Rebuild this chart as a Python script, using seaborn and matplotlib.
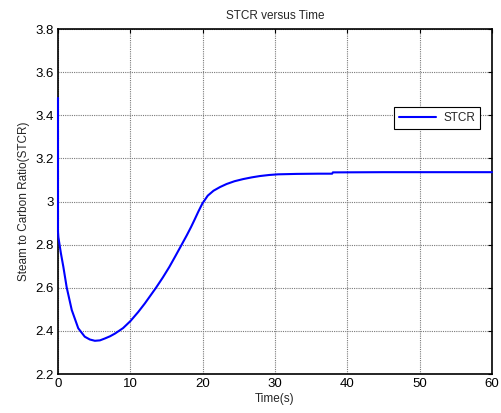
import numpy as np
import pandas as pd
import matplotlib
matplotlib.use("Agg")
import matplotlib.pyplot as plt
import seaborn as sns

time_s = [0, 0, 0.05, 0.4, 0.74, 1.2, 1.9, 2.8, 3.7, 4.4, 5.1, 5.8, 6.5, 7.2, 7.9, 9.0, 10.0, 11.1, 12.0,
          13.55, 14.5, 15.4, 16.2, 17.1, 17.8, 18.4, 18.9, 19.4, 19.95, 20.7, 21.5, 22.4, 23.3, 24.4, 25.6,
          26.8, 27.9, 29.2, 30.4, 33.0, 36.0, 37.9, 38.0, 45.0, 60.0]
stcr = [3.48, 2.86, 2.835, 2.76, 2.697, 2.602, 2.497, 2.412, 2.373, 2.36, 2.354, 2.356, 2.365, 2.375,
        2.388, 2.413, 2.445, 2.488, 2.527, 2.60, 2.648, 2.697, 2.745, 2.80, 2.843, 2.882, 2.917, 2.953, 2.99,
        3.027, 3.050, 3.067, 3.081, 3.094, 3.104, 3.112, 3.118, 3.123, 3.126, 3.128, 3.129, 3.129,
        3.135, 3.136, 3.136]

x_ticks = [0, 10, 20, 30, 40, 50, 60]
y_ticks = [2.2, 2.4, 2.6, 2.8, 3.0, 3.2, 3.4, 3.6, 3.8]
y_tick_labels = ["2.2", "2.4", "2.6", "2.8", "3", "3.2", "3.4", "3.6", "3.8"]

sns.set_style("white")
plt.rcParams["font.family"] = ["Liberation Sans", "DejaVu Sans"]

df = pd.DataFrame({"Time(s)": time_s, "STCR": stcr})

fig = plt.figure(figsize=(5.01, 4.13), dpi=100)
ax = fig.add_axes([58 / 501, 39 / 413, 434 / 501, 345 / 413])

sns.lineplot(data=df, x="Time(s)", y="STCR", ax=ax, color="#0000FF", linewidth=1.5,
             estimator=None, sort=False, label="STCR")
ax.lines[0].set_zorder(3)
ax.lines[0].set_clip_on(False)

ax.set_xlim(0, 60)
ax.set_ylim(2.2, 3.8)
ax.set_xticks(x_ticks)
ax.set_yticks(y_ticks)
ax.set_yticklabels(y_tick_labels)
ax.tick_params(direction="in", length=3, width=0.8, top=True, right=True,
               labelsize=9.5, colors="black", pad=3)
ax.grid(True, color="#7a7a7a", linestyle=(0, (1, 1)), linewidth=0.8)
for s in ax.spines.values():
    s.set_color("black")
    s.set_linewidth(1.2)

ax.set_title("STCR versus Time", fontsize=8.5, pad=7)
ax.set_xlabel("Time(s)", fontsize=8.5, labelpad=2)
ax.set_ylabel("Steam to Carbon Ratio(STCR)", fontsize=8.5, labelpad=4)

leg = ax.legend(loc="upper right", bbox_to_anchor=(0.986, 0.79), frameon=True, fancybox=False,
                fontsize=8.5, handlelength=3.2, borderpad=0.4, handletextpad=0.6)
leg.get_frame().set_edgecolor("black")
leg.get_frame().set_linewidth(0.8)
leg.get_frame().set_alpha(1)
leg.set_zorder(5)

fig.savefig("out.png", dpi=100, facecolor="white")
